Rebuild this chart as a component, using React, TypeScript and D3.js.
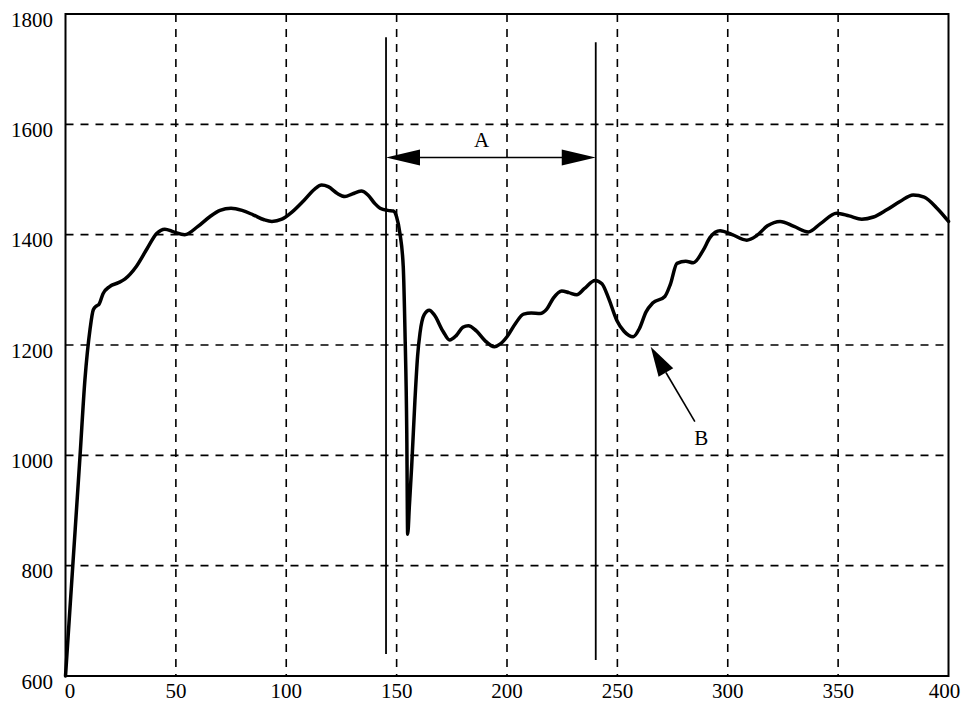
import React from "react";
import * as d3 from "d3";

// Series: measured response over time
const xs = [
  0, 3.3, 6.6, 8.8, 11.1, 12.6, 14.1, 15.2, 17, 20, 24, 27, 32, 37, 41.3, 45, 49, 54, 60, 65.5,
  70, 75, 80, 85, 90, 93.5, 98, 102, 108, 113, 116, 119, 123, 126.6, 130, 134, 137, 140, 142.5, 146,
  148.5, 150, 151.5, 153, 153.8, 154.6, 155, 155.8, 156.8, 158.3, 159.5, 160.6, 162.5, 164.8,
  167, 171, 174, 177, 180, 182.5, 186, 190, 194.3, 197, 200, 204, 207.5, 211, 215, 218, 221, 224.8,
  228, 231.6, 235, 239.9, 243, 246, 249.7, 253, 257.2, 260, 263, 266, 271.5, 274, 277, 281, 284.4,
  288.9, 292, 296.5, 302, 308.6, 313, 318, 323.7, 330, 336.5, 342, 349.3, 355, 360.7, 366, 372, 378,
  384, 389, 395, 400,
];
const ys = [
  600, 800, 1000, 1137, 1228, 1264, 1271, 1274, 1293, 1306, 1313, 1320, 1342, 1375, 1402, 1410, 1405, 1400, 1415, 1433,
  1444, 1448, 1444, 1436, 1427, 1424, 1428, 1439, 1462, 1483, 1490, 1487, 1475, 1469, 1474, 1479, 1472, 1457, 1448, 1444,
  1443, 1432, 1402, 1342, 1222, 1041, 857, 910, 979, 1100, 1180, 1222, 1255, 1263,
  1255, 1225, 1209, 1217, 1232, 1235, 1226, 1208, 1197, 1202, 1215, 1240, 1256, 1258, 1257, 1265, 1285, 1298,
  1295, 1291, 1302, 1317, 1311, 1285, 1245, 1225, 1215, 1230, 1260, 1276, 1288, 1310, 1348, 1352, 1349,
  1372, 1395, 1407, 1400, 1390, 1398, 1416, 1424, 1415, 1405, 1420, 1439, 1434, 1428, 1432, 1445, 1460,
  1472, 1468, 1447, 1424,
];

const xTicks = [0, 50, 100, 150, 200, 250, 300, 350, 400];
const yTicks = [600, 800, 1000, 1200, 1400, 1600, 1800];

// Vertical markers bounding interval A: [x, top value, bottom value]
const markerX = [145.2, 240.2];
const markerTop = [1758, 1749];
const markerBottom = [640, 629];

// Interval A dimension arrow
const arrowAY = 1540;
const labelA = "A";

// Pointer B: tail -> tip
const arrowBTail = [285.1, 1061];
const arrowBTip = [265.1, 1197];
const labelB = "B";

const W = 961;
const H = 702;
const left = 65.5;
const right = 948.5;
const top = 14;
const bottom = 676;

export default function App() {
  const x = d3.scaleLinear().domain([0, 400]).range([left, right]);
  const y = d3.scaleLinear().domain([600, 1800]).range([bottom, top]);

  const pts: [number, number][] = xs.map((v, i) => [v, ys[i]]);
  const line = d3
    .line<[number, number]>()
    .x((d) => x(d[0]))
    .y((d) => y(d[1]))
    .curve(d3.curveMonotoneX);

  const font = "'Liberation Serif', 'Times New Roman', serif";

  // arrow A geometry
  const ay = y(arrowAY);
  const ax0 = x(markerX[0]);
  const ax1 = x(markerX[1]);
  const headL = 34;
  const headW = 8;

  // arrow B geometry
  const tx = x(arrowBTail[0]);
  const ty = y(arrowBTail[1]);
  const px = x(arrowBTip[0]);
  const py = y(arrowBTip[1]);
  const ang = Math.atan2(ty - py, tx - px);
  const bl = 30;
  const bw = 8.5;
  const bx = px + Math.cos(ang) * bl;
  const by = py + Math.sin(ang) * bl;
  const nx = -Math.sin(ang);
  const ny = Math.cos(ang);

  return (
    <svg
      width={W}
      height={H}
      style={{ position: "absolute", left: 0, top: 0, background: "#fff" }}
    >
      <rect x={0} y={0} width={W} height={H} fill="#fff" />
      {/* grid */}
      {xTicks
        .filter((t) => t > 0 && t < 400)
        .map((t) => (
          <line
            key={"gx" + t}
            x1={x(t)}
            x2={x(t)}
            y1={top}
            y2={bottom}
            stroke="#000"
            strokeWidth={1.6}
            strokeDasharray="8,7"
          />
        ))}
      {yTicks
        .filter((t) => t > 600 && t < 1800)
        .map((t) => (
          <line
            key={"gy" + t}
            x1={left}
            x2={right}
            y1={y(t)}
            y2={y(t)}
            stroke="#000"
            strokeWidth={1.6}
            strokeDasharray="8,7"
          />
        ))}

      {/* frame */}
      <rect
        x={left}
        y={top}
        width={right - left}
        height={bottom - top}
        fill="none"
        stroke="#000"
        strokeWidth={2}
      />

      {/* tick labels */}
      {yTicks.map((t) => (
        <text
          key={"ty" + t}
          x={53}
          y={y(t) + 12.5}
          textAnchor="end"
          fontFamily={font}
          fontSize={21}
          fill="#000"
        >
          {t}
        </text>
      ))}
      {xTicks.map((t, i) => (
        <text
          key={"tx" + t}
          x={x(t) + (i === 0 ? 4.5 : i === xTicks.length - 1 ? -4 : 0)}
          y={698}
          textAnchor="middle"
          fontFamily={font}
          fontSize={21}
          fill="#000"
        >
          {t}
        </text>
      ))}

      {/* markers */}
      {markerX.map((m, i) => (
        <line
          key={"m" + i}
          x1={x(m)}
          x2={x(m)}
          y1={y(markerTop[i])}
          y2={y(markerBottom[i])}
          stroke="#000"
          strokeWidth={1.8}
        />
      ))}

      {/* interval A */}
      <line x1={ax0 + headL - 2} x2={ax1 - headL + 2} y1={ay} y2={ay} stroke="#000" strokeWidth={1.6} />
      <path
        d={`M${ax0},${ay} L${ax0 + headL},${ay - headW} L${ax0 + headL},${ay + headW} Z`}
        fill="#000"
      />
      <path
        d={`M${ax1},${ay} L${ax1 - headL},${ay - headW} L${ax1 - headL},${ay + headW} Z`}
        fill="#000"
      />
      <text x={481.7} y={ay - 10.5} textAnchor="middle" fontFamily={font} fontSize={21} fill="#000">
        {labelA}
      </text>

      {/* pointer B */}
      <line x1={tx} y1={ty} x2={bx} y2={by} stroke="#000" strokeWidth={1.6} />
      <path
        d={`M${px},${py} L${bx + nx * bw},${by + ny * bw} L${bx - nx * bw},${by - ny * bw} Z`}
        fill="#000"
      />
      <text x={tx + 6.5} y={ty + 23.5} textAnchor="middle" fontFamily={font} fontSize={21} fill="#000">
        {labelB}
      </text>

      {/* curve */}
      <path
        d={line(pts) || ""}
        fill="none"
        stroke="#000"
        strokeWidth={3.5}
        strokeLinejoin="round"
        strokeLinecap="round"
      />
    </svg>
  );
}
